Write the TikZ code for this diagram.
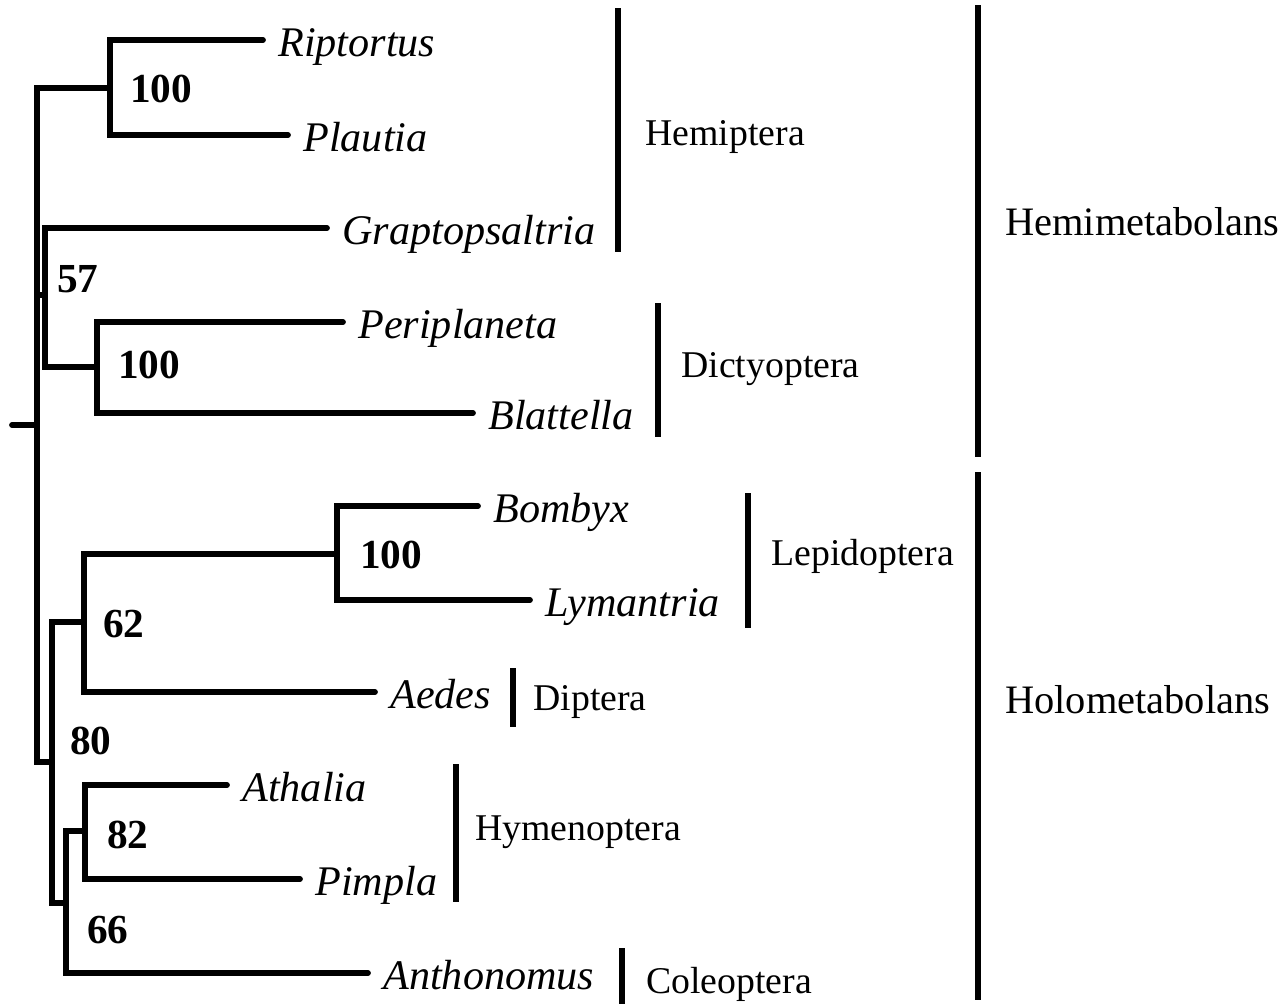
\documentclass[tikz,border=0pt]{standalone}
\usepackage{fontspec}
\setmainfont{Liberation Serif}
\begin{document}
\begin{tikzpicture}[x=0.02cm,y=-0.02cm,line join=miter,line cap=round]
	\tikzset{branch/.style={line width=3.3pt},
		bar/.style={line width=3.1pt,line cap=butt},
		taxon/.style={anchor=base west,inner sep=0pt,font=\fontsize{24}{28}\selectfont\itshape},
		boot/.style={anchor=base west,inner sep=0pt,font=\fontsize{23.5}{28}\selectfont\bfseries},
		order/.style={anchor=base west,inner sep=0pt,font=\fontsize{21.5}{26}\selectfont},
		suborder/.style={order,font=\fontsize{23}{27}\selectfont}}
	\useasboundingbox (0,0) rectangle (1286,1004);
	% internal nodes
	\coordinate (root) at (12,425);
	\coordinate (r) at (37,425);
	\coordinate (A) at (110,88);
	\coordinate (B) at (45,295);
	\coordinate (C) at (97,367);
	\coordinate (D) at (52,762);
	\coordinate (E) at (84,622);
	\coordinate (F) at (337,554);
	\coordinate (G) at (66,903);
	\coordinate (H) at (85,831);
	% leaves
	\foreach \nm/\tx/\ty/\txt in {rip/263/40/Riptortus,pla/288/135/Plautia,gra/327/228/Graptopsaltria,
		per/343/322/Periplaneta,bla/473/413/Blattella,bom/478/506/Bombyx,lym/530/600/Lymantria,
		aed/375/692/Aedes,ath/227/785/Athalia,pim/300/879/Pimpla,ant/368/973/Anthonomus}{
		\coordinate (\nm) at (\tx,\ty);
		\node[taxon] (\nm lab) at (\tx+15,\ty+16) {\txt};
	}
	\draw[branch] (root)--(r);
	\draw[branch] (r)|-(A) (r)|-(B) (r)|-(D);
	\draw[branch] (A)|-(rip) (A)|-(pla);
	\draw[branch] (B)|-(gra) (B)|-(C);
	\draw[branch] (C)|-(per) (C)|-(bla);
	\draw[branch] (D)|-(E) (D)|-(G);
	\draw[branch] (E)|-(F) (E)|-(aed);
	\draw[branch] (F)|-(bom) (F)|-(lym);
	\draw[branch] (G)|-(H) (G)|-(ant);
	\draw[branch] (H)|-(ath) (H)|-(pim);
	% support values
	\node[boot] (bA) at (130,102) {100};
	\node[boot] (bB) at (57,292) {57};
	\node[boot] (bC) at (118,378) {100};
	\node[boot] (bF) at (360,568) {100};
	\node[boot] (bE) at (103,637) {62};
	\node[boot] (bD) at (70,754) {80};
	\node[boot] (bH) at (107,848) {82};
	\node[boot] (bG) at (87,943) {66};
	% orders
	\foreach \nm/\bx/\ya/\yb/\lx/\ly/\txt in {hemi/618/8/252/645/145/Hemiptera,
		dict/658/303/437/681/377/Dictyoptera,lepi/748/493/628/771/565/Lepidoptera,
		dipt/513/668/727/533/710/Diptera,hyme/456/764/902/475/840/Hymenoptera,
		cole/622/948/1004/646/993/Coleoptera}{
		\draw[bar] (\bx,\ya) coordinate (\nm top)--(\bx,\yb) coordinate (\nm bot);
		\node[order] (\nm) at (\lx,\ly) {\txt};
	}
	% development types
	\foreach \nm/\ya/\yb/\ly/\txt in {hmet/5/457/235/Hemimetabolans,homet/472/1000/713/Holometabolans}{
		\draw[bar] (978,\ya) coordinate (\nm top)--(978,\yb) coordinate (\nm bot);
		\node[suborder] (\nm) at (1005,\ly) {\txt};
	}
\end{tikzpicture}
\end{document}
